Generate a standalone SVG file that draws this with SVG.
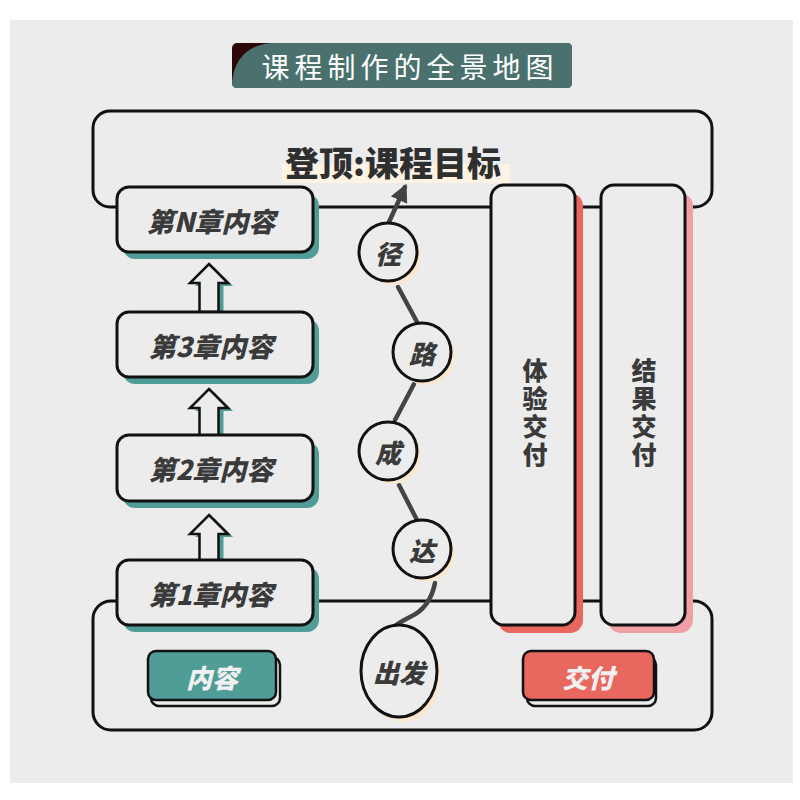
<svg xmlns="http://www.w3.org/2000/svg" width="800" height="800" viewBox="0 0 800 800">
<style>
.frame{fill:#ececec;stroke:#111;stroke-width:3}
.box{fill:#ececec;stroke:#111;stroke-width:3}
.ch{font-family:"Noto Sans CJK SC","Noto Sans",sans-serif;font-weight:900;font-style:italic;font-size:27px;fill:#3a3a3a;text-anchor:middle;dominant-baseline:central}
.cc{font-family:"Noto Sans CJK SC","Noto Sans",sans-serif;font-weight:900;font-style:italic;font-size:26px;fill:#3a3a3a;text-anchor:middle;dominant-baseline:central}
.vt{font-family:"Noto Sans CJK SC","Noto Sans",sans-serif;font-weight:900;font-size:25px;fill:#3a3a3a;text-anchor:middle;writing-mode:vertical-rl;letter-spacing:3px}
.btn{font-family:"Noto Sans CJK SC","Noto Sans",sans-serif;font-weight:900;font-style:italic;font-size:26px;fill:#f1f1f1;text-anchor:middle;dominant-baseline:central}
.circ{fill:#ececec;stroke:#111;stroke-width:3}
.cshadow{fill:#fbe6cf}
.path{fill:none;stroke:#444;stroke-width:4.5;stroke-linecap:round}
.arr{fill:#ececec;stroke:#111;stroke-width:2.5;stroke-linejoin:miter}
.arrs{fill:#4f9d96}
</style>
<defs>
<marker id="ah" viewBox="0 0 10 10" refX="8" refY="5" markerWidth="4" markerHeight="4" orient="auto">
<path d="M0,0 L10,5 L0,10 Z" fill="#444"/>
</marker>
<path id="uparrow" d="M0,0 L19,19 L9.5,19 L9.5,48 L-9.5,48 L-9.5,19 L-19,19 Z"/>
</defs>
<rect x="0" y="0" width="800" height="800" fill="#ffffff"/>
<rect x="10" y="20" width="783" height="763" fill="#ececec"/>

<g id="title">
<rect x="232" y="43" width="340" height="45" rx="5" fill="#2e0608"/>
<path d="M232,82 Q236,46 272,43 L567,43 Q572,43 572,48 L572,83 Q572,88 567,88 L237,88 Q232,88 232,83 Z" fill="#4a716d"/>
<text x="410" y="66" font-family="Noto Sans CJK SC, Noto Sans, sans-serif" font-size="28" fill="#ffffff" text-anchor="middle" dominant-baseline="central" letter-spacing="5">课程制作的全景地图</text>
</g>

<g id="top-frame">
<rect class="frame" x="93" y="111" width="619" height="96" rx="17"/>
<rect x="282" y="164" width="228" height="19" fill="#fdf3e4"/>
<text x="393" y="161" font-family="Noto Sans CJK SC, Noto Sans, sans-serif" font-weight="900" font-size="34" fill="#2f2f2f" text-anchor="middle" dominant-baseline="central">登顶:课程目标</text>
</g>

<g id="bottom-frame">
<rect class="frame" x="93" y="601" width="619" height="129" rx="18"/>
</g>

<g id="connectors">
<use href="#uparrow" x="214" y="267" class="arrs"/>
<use href="#uparrow" x="209" y="264" class="arr"/>
<use href="#uparrow" x="214" y="392" class="arrs"/>
<use href="#uparrow" x="209" y="389" class="arr"/>
<use href="#uparrow" x="214" y="518" class="arrs"/>
<use href="#uparrow" x="209" y="515" class="arr"/>
<path class="path" d="M389,222 L405,187" marker-end="url(#ah)"/>
<path class="path" d="M398,287 L417,322"/>
<path class="path" d="M414,384 L395,420"/>
<path class="path" d="M399,485 L417,520"/>
<path class="path" d="M435,583 Q430,608 410,617 Q400,622 395,626"/>
</g>

<g id="ch-n">
<rect x="123" y="194" width="196" height="65" rx="12" fill="#4f9d96"/>
<rect class="box" x="117" y="187" width="196" height="65" rx="12"/>
<text class="ch" x="211" y="220">第N章内容</text>
</g>
<g id="ch-3">
<rect x="123" y="319" width="196" height="65" rx="12" fill="#4f9d96"/>
<rect class="box" x="117" y="312" width="196" height="65" rx="12"/>
<text class="ch" x="211" y="345">第3章内容</text>
</g>
<g id="ch-2">
<rect x="123" y="442" width="196" height="66" rx="12" fill="#4f9d96"/>
<rect class="box" x="117" y="435" width="196" height="66" rx="12"/>
<text class="ch" x="211" y="468">第2章内容</text>
</g>
<g id="ch-1">
<rect x="123" y="567" width="196" height="65" rx="12" fill="#4f9d96"/>
<rect class="box" x="117" y="560" width="196" height="65" rx="12"/>
<text class="ch" x="211" y="593">第1章内容</text>
</g>

<g id="c-jing">
<circle class="cshadow" cx="392" cy="256" r="29"/>
<circle class="circ" cx="388" cy="252" r="29"/>
<text class="cc" x="388" y="252">径</text>
</g>
<g id="c-lu">
<circle class="cshadow" cx="426" cy="356" r="29"/>
<circle class="circ" cx="422" cy="352" r="29"/>
<text class="cc" x="422" y="352">路</text>
</g>
<g id="c-cheng">
<circle class="cshadow" cx="392" cy="455" r="29"/>
<circle class="circ" cx="388" cy="451" r="29"/>
<text class="cc" x="388" y="451">成</text>
</g>
<g id="c-da">
<circle class="cshadow" cx="426" cy="553" r="29"/>
<circle class="circ" cx="422" cy="549" r="29"/>
<text class="cc" x="422" y="549">达</text>
</g>
<g id="c-start">
<ellipse class="cshadow" cx="403" cy="676" rx="38" ry="46"/>
<ellipse class="circ" cx="399" cy="671" rx="38" ry="46"/>
<text class="cc" x="399" y="671" font-size="28">出发</text>
</g>

<g id="bar-exp">
<rect x="498" y="193" width="85" height="440" rx="13" fill="#e8675e"/>
<rect class="box" x="491" y="185" width="84" height="440" rx="13"/>
<text class="vt" x="535" y="414">体验交付</text>
</g>
<g id="bar-result">
<rect x="608" y="193" width="85" height="440" rx="13" fill="#f0a0a4"/>
<rect class="box" x="601" y="185" width="84" height="440" rx="13"/>
<text class="vt" x="644" y="414">结果交付</text>
</g>

<g id="btn-content">
<rect x="151" y="657" width="129" height="49" rx="8" fill="#ececec" stroke="#111" stroke-width="2.5"/>
<rect x="148" y="651" width="128" height="49" rx="8" fill="#4f9d96" stroke="#111" stroke-width="2.5"/>
<text class="btn" x="212" y="676">内容</text>
</g>
<g id="btn-deliver">
<rect x="527" y="657" width="129" height="49" rx="8" fill="#ececec" stroke="#111" stroke-width="2.5"/>
<rect x="523" y="651" width="131" height="49" rx="8" fill="#e8675e" stroke="#111" stroke-width="2.5"/>
<text class="btn" x="588" y="676">交付</text>
</g>
</svg>
